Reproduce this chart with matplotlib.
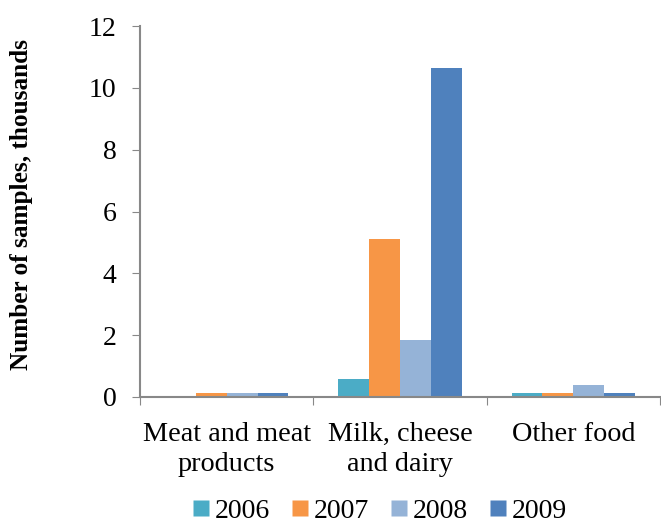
import matplotlib
matplotlib.use("Agg")
import matplotlib.pyplot as plt
import numpy as np

categories = ["Meat and meat\nproducts", "Milk, cheese\nand dairy", "Other food"]
years = ["2006", "2007", "2008", "2009"]
values_2006 = [0.0, 0.58, 0.12]
values_2007 = [0.12, 5.11, 0.12]
values_2008 = [0.12, 1.84, 0.38]
values_2009 = [0.12, 10.65, 0.12]
series = [values_2006, values_2007, values_2008, values_2009]
colors = ["#4BACC6", "#F79646", "#95B3D7", "#4F81BD"]

plt.rcParams["font.family"] = ["Liberation Serif", "DejaVu Serif"]

fig = plt.figure(figsize=(6.61, 5.23), dpi=100)
ax = fig.add_axes([140 / 661, 1 - 397 / 523, 520 / 661, (397 - 26) / 523])

x = np.arange(len(categories))
width = 0.178
for i, (vals, col, yr) in enumerate(zip(series, colors, years)):
    ax.bar(x + (i - 1.5) * width, vals, width, color=col, label=yr, edgecolor="none")

ax.set_xlim(-0.5, 2.5)
ax.set_ylim(0, 12)
ax.set_yticks(range(0, 13, 2))
ax.set_xticks([-0.5, 0.5, 1.5, 2.5], minor=False)
ax.set_xticklabels([])
ax.set_xticks(x, minor=True)
ax.set_xticklabels(categories, minor=True, fontsize=20.3, linespacing=1.27)
ax.tick_params(axis="x", which="minor", length=0, pad=18)
ax.tick_params(axis="x", which="major", length=6, direction="out", color="#888888")
ax.tick_params(axis="y", length=6, direction="out", color="#888888", labelsize=20, pad=11)

for side in ["top", "right"]:
    ax.spines[side].set_visible(False)
for side in ["left", "bottom"]:
    ax.spines[side].set_color("#888888")
    ax.spines[side].set_linewidth(1.5)

ax.set_ylabel("Number of samples, thousands", fontsize=18.2, fontweight="bold")
ax.yaxis.set_label_coords(-0.205, 0.52)

handles = [plt.Line2D([], [], marker="s", linestyle="none", markersize=11,
                      markerfacecolor=c, markeredgecolor="none") for c in colors]
fig.legend(handles, years, loc="center", bbox_to_anchor=(380 / 661, 1 - 511 / 523), ncol=4,
           frameon=False, fontsize=20, handletextpad=0.22, columnspacing=0.8,
           handlelength=0.55, borderpad=0)

fig.savefig("out.png", dpi=100)
